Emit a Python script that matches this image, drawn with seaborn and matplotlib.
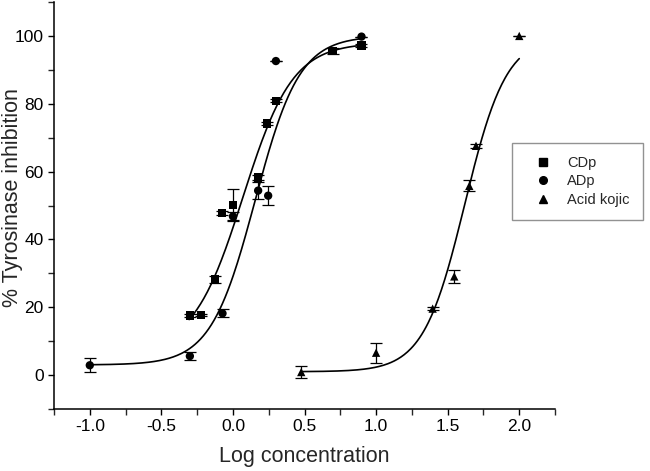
import numpy as np
import pandas as pd
import seaborn as sns
import matplotlib.pyplot as plt
from matplotlib.lines import Line2D
from matplotlib.ticker import MultipleLocator

# measured points (log concentration, % inhibition, error)
cdp_x = [-0.301, -0.224, -0.126, -0.075, 0.0, 0.176, 0.239, 0.30, 0.696, 0.898]
cdp_y = [17.6, 17.7, 28.3, 47.8, 50.2, 58.3, 74.2, 80.9, 95.6, 97.2]
cdp_err = [0.4, 0.4, 1.0, 0.6, 4.6, 0.8, 0.5, 0.5, 0.8, 0.4]

adp_x = [-1.0, -0.301, -0.073, 0.0, 0.176, 0.246, 0.30, 0.898]
adp_y = [2.9, 5.6, 18.2, 46.8, 54.4, 52.9, 92.6, 99.8]
adp_err = [2.0, 1.2, 1.2, 1.3, 2.5, 2.8, 0.0, 0.0]

kojic_x = [0.477, 1.0, 1.395, 1.546, 1.651, 1.698, 2.0]
kojic_y = [0.9, 6.6, 19.6, 29.1, 55.8, 67.6, 100.0]
kojic_err = [1.8, 2.9, 0.4, 1.8, 1.6, 0.6, 0.0]

# dose-response fits: bottom, top, logx0, slope, x range
cdp_fit = [7.0, 98.0, 0.07, 2.5, -0.306, 0.9]
adp_fit = [3.0, 100.0, 0.155, 2.8, -1.0, 0.9]
kojic_fit = [1.0, 100.0, 1.62, 3.0, 0.477, 2.0]

labels = ["CDp", "ADp", "Acid kojic"]
markers = ["s", "o", "^"]


def dose_resp(p, n=200):
    a1, a2, x0, slope, lo, hi = p
    x = np.linspace(lo, hi, n)
    return x, a1 + (a2 - a1) / (1 + 10 ** ((x0 - x) * slope))


sns.set_theme(style="ticks")
plt.rcParams['font.family'] = ['Liberation Sans', 'DejaVu Sans']

fig = plt.figure(figsize=(6.5, 4.71), dpi=100)
ax = fig.add_axes([0.0831, 0.1316, 0.7708, 0.8641])

pts = pd.concat([
    pd.DataFrame({"x": cdp_x, "y": cdp_y, "err": cdp_err, "compound": labels[0]}),
    pd.DataFrame({"x": adp_x, "y": adp_y, "err": adp_err, "compound": labels[1]}),
    pd.DataFrame({"x": kojic_x, "y": kojic_y, "err": kojic_err, "compound": labels[2]}),
], ignore_index=True)

curves = []
for lab, fit in zip(labels, [cdp_fit, adp_fit, kojic_fit]):
    cx, cy = dose_resp(fit)
    curves.append(pd.DataFrame({"x": cx, "y": cy, "compound": lab}))
curves = pd.concat(curves, ignore_index=True)

sns.lineplot(data=curves, x="x", y="y", units="compound", estimator=None,
             color="black", linewidth=1.2, ax=ax, legend=False)

for lab in labels:
    d = pts[pts.compound == lab]
    ax.errorbar(d.x, d.y, yerr=d.err, fmt="none", ecolor="black",
                elinewidth=0.9, capsize=4.5, capthick=0.9, zorder=3)

sns.scatterplot(data=pts, x="x", y="y", style="compound", markers=dict(zip(labels, markers)),
                color="black", s=36, edgecolor="black", linewidth=0, ax=ax, legend=False, zorder=4)

ax.set_xlim(-1.25, 2.25)
ax.set_ylim(-10, 110)
ax.xaxis.set_minor_locator(MultipleLocator(0.25))
ax.yaxis.set_minor_locator(MultipleLocator(10))
ax.set_yticks([0, 20, 40, 60, 80, 100])
ax.set_xticks([-1.0, -0.5, 0.0, 0.5, 1.0, 1.5, 2.0])
ax.set_xticklabels(["-1.0", "-0.5", "0.0", "0.5", "1.0", "1.5", "2.0"])
ax.tick_params(which="major", direction="out", length=4, width=1, labelsize=12.5, colors="black")
ax.tick_params(which="minor", direction="out", length=4, width=1)
sns.despine(ax=ax)
for s in ["left", "bottom"]:
    ax.spines[s].set_linewidth(1.1)
    ax.spines[s].set_color("black")

ax.set_xlabel("Log concentration", fontsize=15.5, labelpad=8)
ax.set_ylabel("% Tyrosinase inhibition", fontsize=15.5)
ax.yaxis.set_label_coords(-0.062, 0.52)

handles = [Line2D([], [], marker=m, color="black", linestyle="none", markersize=5.5) for m in markers]
leg = ax.legend(handles, labels, loc="upper left", bbox_to_anchor=(0.914, 0.654),
                borderaxespad=0, frameon=True, fancybox=False, fontsize=10.5,
                handlelength=2.4, handletextpad=0.5, labelspacing=0.3,
                borderpad=0.9)
leg.get_frame().set_edgecolor("#777777")
leg.get_frame().set_linewidth(1.0)

fig.savefig("out.png", dpi=100)
